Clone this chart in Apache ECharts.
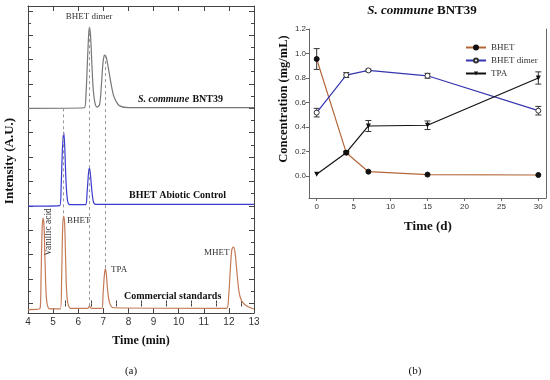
<!DOCTYPE html>
<html><head><meta charset="utf-8">
<script src="https://cdn.jsdelivr.net/npm/echarts@6/dist/echarts.min.js"></script>
<style>html,body{margin:0;padding:0;background:#fff}#c{width:550px;height:380px}</style>
</head><body><div id="c"></div>
<script>
// ---------- Panel (a): HPLC chromatograms (offset intensity, A.U.) ----------
const grayTime = [4, 6.24, 6.31, 6.37, 6.42, 6.45, 6.49, 6.54, 6.6, 6.67, 6.75, 6.85, 6.92, 6.98, 7.03, 7.07, 7.12, 7.2, 7.3, 7.4, 7.5, 7.65, 8.0, 13.0];
const grayIntensity = [16.0, 16.05, 17.2, 20.0, 22.2, 22.66, 22.0, 19.8, 17.5, 16.4, 16.1, 16.3, 17.8, 19.6, 20.3, 20.37, 20.15, 19.3, 18.1, 17.1, 16.6, 16.2, 16.05, 16.05];
const blueTime = [4, 5.27, 5.32, 5.37, 5.42, 5.46, 5.51, 5.57, 5.66, 6.29, 6.35, 6.41, 6.45, 6.49, 6.55, 6.61, 6.7, 13];
const blueIntensity = [7.99, 8.03, 9.6, 12.6, 14.06, 13.0, 10.2, 8.5, 8.1, 8.1, 9.0, 10.7, 11.1, 10.5, 9.1, 8.3, 8.12, 8.13];
const stdTime = [4, 4.47, 4.52, 4.56, 4.6, 4.64, 4.68, 4.74, 4.86, 5.29, 5.34, 5.38, 5.42, 5.46, 5.5, 5.56, 5.7, 6.38, 6.45, 6.52, 6.94, 6.99, 7.04, 7.08, 7.12, 7.17, 7.25, 7.4, 11.9, 11.99, 12.06, 12.12, 12.18, 12.24, 12.31, 12.4, 12.5, 12.65, 12.85, 13.0];
const stdIntensity = [-0.5, -0.45, 2.2, 6.0, 7.0, 6.3, 3.3, 0.3, -0.45, -0.45, 2.2, 6.2, 7.17, 6.5, 3.5, 0.4, -0.4, -0.4, -0.2, -0.4, -0.4, 0.8, 2.3, 2.83, 2.4, 1.1, 0.05, -0.35, -0.4, 0.6, 2.9, 4.45, 4.63, 4.25, 2.8, 1.0, 0.25, -0.12, -0.35, -0.45];
// dashed guide lines: retention time, upper and lower intensity
const guideTime = [5.42, 6.45, 7.08];
const guideTop = [16.0, 22.66, 20.37];
const guideBottom = [7.17, -0.37, 2.83];
const aXTicks = [4, 5, 6, 7, 8, 9, 10, 11, 12, 13];
const aXMinor = [4.5, 5.5, 6.5, 7.5, 8.5, 9.5, 10.5, 11.5, 12.5];
const aYMajor = [0, 2, 4, 6, 8, 10, 12, 14, 16, 18, 20, 22, 24];
const aYMinor = [1, 3, 5, 7, 9, 11, 13, 15, 17, 19, 21, 23];

// ---------- Panel (b): concentration vs time ----------
const days = [0, 4, 7, 15, 30];
const bhet = [0.955, 0.19, 0.035, 0.011, 0.008];
const bhetErr = [0.085, 0.012, 0, 0, 0];
const dimer = [0.517, 0.824, 0.862, 0.818, 0.533];
const dimerErr = [0.035, 0.02, 0.01, 0.02, 0.035];
const tpa = [0.014, 0.19, 0.408, 0.414, 0.80];
const tpaErr = [0, 0.01, 0.045, 0.035, 0.05];
const bXTicks = [0, 5, 10, 15, 20, 25, 30];
const bYTicks = [0, 0.2, 0.4, 0.6, 0.8, 1.0, 1.2];

const serif = '"Liberation Serif", "DejaVu Serif", serif';
const sans = '"Liberation Sans", Arial, sans-serif';
const zip = (a, b) => a.map((v, i) => [v, b[i]]);

function errSeries(vals, errs) {
  const data = [];
  days.forEach((d, i) => { if (errs[i] > 0) data.push([d, vals[i] - errs[i], vals[i] + errs[i]]); });
  return {
    type: 'custom', xAxisIndex: 4, yAxisIndex: 6, silent: true, z: 3,
    encode: { x: 0, y: [1, 2] },
    data,
    renderItem: (params, api) => {
      const lo = api.coord([api.value(0), api.value(1)]);
      const hi = api.coord([api.value(0), api.value(2)]);
      const w = 3, st = { stroke: '#333', lineWidth: 1 };
      return { type: 'group', children: [
        { type: 'line', shape: { x1: lo[0], y1: lo[1], x2: hi[0], y2: hi[1] }, style: st },
        { type: 'line', shape: { x1: lo[0] - w, y1: lo[1], x2: lo[0] + w, y2: lo[1] }, style: st },
        { type: 'line', shape: { x1: hi[0] - w, y1: hi[1], x2: hi[0] + w, y2: hi[1] }, style: st }
      ]};
    }
  };
}

const axA = '#444';
const aX = (pos, labels) => ({
  type: 'value', gridIndex: 0, position: pos, min: 4, max: 13,
  axisLine: { show: true, onZero: false, lineStyle: { color: axA, width: 1 } },
  splitLine: { show: false },
  axisTick: { show: true, inside: true, length: 5, customValues: aXTicks, lineStyle: { color: axA } },
  axisLabel: { show: labels, customValues: aXTicks, fontFamily: sans, fontSize: 10, color: '#333', margin: 4 }
});
const aXm = (pos) => ({
  type: 'value', gridIndex: 0, position: pos, min: 4, max: 13,
  axisLine: { show: false }, splitLine: { show: false }, axisLabel: { show: false },
  axisTick: { show: true, inside: true, length: 3, customValues: aXMinor, lineStyle: { color: axA } }
});
const aY = (pos, vals, len, line) => ({
  type: 'value', gridIndex: 0, position: pos, min: -0.78, max: 24.39,
  axisLine: { show: line, onZero: false, lineStyle: { color: axA, width: 1 } },
  splitLine: { show: false }, axisLabel: { show: false },
  axisTick: { show: true, inside: true, length: len, customValues: vals, lineStyle: { color: axA } }
});
const axB = '#666';

const guideData = guideTime.map((t, i) => [{ coord: [t, guideTop[i]] }, { coord: [t, guideBottom[i]] }]);

const option = {
  animation: false,
  backgroundColor: '#fff',
  grid: [
    { left: 28, right: 296, top: 6, bottom: 67 },
    { left: 309, right: 4, top: 29, bottom: 182 }
  ],
  xAxis: [
    aX('bottom', true), aX('top', false), aXm('bottom'), aXm('top'),
    { type: 'value', gridIndex: 1, position: 'bottom', min: -1.04, max: 31.04,
      axisLine: { show: true, onZero: false, lineStyle: { color: axB } }, splitLine: { show: false },
      axisTick: { show: true, inside: false, length: 3, customValues: bXTicks, lineStyle: { color: axB } },
      axisLabel: { customValues: bXTicks, fontFamily: sans, fontSize: 8, color: '#333', margin: 5 } }
  ],
  yAxis: [
    aY('left', aYMajor, 5, true), aY('left', aYMinor, 3, false),
    aY('right', aYMajor, 5, true), aY('right', aYMinor, 3, false),
    { type: 'value', gridIndex: 1, position: 'right', min: -0.18, max: 1.2,
      axisLine: { show: true, onZero: false, lineStyle: { color: axB } }, splitLine: { show: false },
      axisTick: { show: false }, axisLabel: { show: false } },
    { type: 'value', gridIndex: 1, position: 'right', min: -0.18, max: 1.2, show: false },
    { type: 'value', gridIndex: 1, position: 'left', min: -0.18, max: 1.2,
      axisLine: { show: true, onZero: false, lineStyle: { color: axB } }, splitLine: { show: false },
      axisTick: { show: true, inside: false, length: 3, customValues: bYTicks, lineStyle: { color: axB } },
      axisLabel: { customValues: bYTicks, formatter: v => v.toFixed(1), fontFamily: sans, fontSize: 8, color: '#333', margin: 3 } }
  ],
  legend: {
    data: ['BHET', 'BHET dimer', 'TPA'], orient: 'vertical', left: 460, top: 38,
    itemWidth: 20, itemHeight: 5, itemGap: 4,
    textStyle: { fontFamily: serif, fontSize: 9, color: '#333' }
  },
  series: [
    { type: 'line', xAxisIndex: 0, yAxisIndex: 0, data: zip(grayTime, grayIntensity), showSymbol: false, smooth: 0.3,
      lineStyle: { color: '#777', width: 1.2 }, z: 2,
      markLine: { silent: true, symbol: 'none', label: { show: false },
        lineStyle: { color: '#999', type: [3, 3], width: 1 }, data: guideData } },
    { type: 'line', xAxisIndex: 0, yAxisIndex: 0, data: zip(blueTime, blueIntensity), showSymbol: false, smooth: 0.3,
      lineStyle: { color: '#3b3bd0', width: 1.2 }, z: 2 },
    { type: 'line', xAxisIndex: 0, yAxisIndex: 0, data: zip(stdTime, stdIntensity), showSymbol: false, smooth: 0.3,
      lineStyle: { color: '#c47a55', width: 1.2 }, z: 2 },
    errSeries(bhet, bhetErr), errSeries(dimer, dimerErr), errSeries(tpa, tpaErr),
    { name: 'BHET', type: 'line', xAxisIndex: 4, yAxisIndex: 6, data: zip(days, bhet),
      symbol: 'circle', symbolSize: 5, lineStyle: { color: '#b5673a', width: 1.2 },
      itemStyle: { color: '#111', borderColor: '#111', borderWidth: 1 }, z: 4 },
    { name: 'BHET dimer', type: 'line', xAxisIndex: 4, yAxisIndex: 6, data: zip(days, dimer),
      symbol: 'circle', symbolSize: 5, lineStyle: { color: '#3535b0', width: 1.2 },
      itemStyle: { color: '#fff', borderColor: '#333', borderWidth: 1 }, z: 4 },
    { name: 'TPA', type: 'line', xAxisIndex: 4, yAxisIndex: 6, data: zip(days, tpa),
      symbol: 'triangle', symbolRotate: 180, symbolSize: 5, lineStyle: { color: '#111', width: 1.2 },
      itemStyle: { color: '#111' }, z: 4 }
  ],
  graphic: [
    { type: 'text', x: 89, y: 17, style: { text: 'BHET dimer', font: '9px ' + serif, fill: '#333', align: 'center', verticalAlign: 'middle' } },
    { type: 'text', x: 138, y: 99, style: { text: '{i|S. commune} {b|BNT39}', verticalAlign: 'middle',
        rich: { i: { font: 'italic bold 10px ' + serif, fill: '#111' }, b: { font: 'bold 10px ' + serif, fill: '#111' } } } },
    { type: 'text', x: 129, y: 195, style: { text: 'BHET Abiotic Control', font: 'bold 10px ' + serif, fill: '#111', verticalAlign: 'middle' } },
    { type: 'text', x: 124, y: 296, style: { text: 'Commercial standards', font: 'bold 10px ' + serif, fill: '#111', verticalAlign: 'middle' } },
    { type: 'text', x: 48.5, y: 232, rotation: Math.PI / 2, style: { text: 'Vanillic acid', font: '9.5px ' + serif, fill: '#333', align: 'center', verticalAlign: 'middle' } },
    { type: 'text', x: 67, y: 221, style: { text: 'BHET', font: '9px ' + serif, fill: '#333', verticalAlign: 'middle' } },
    { type: 'text', x: 111, y: 270, style: { text: 'TPA', font: '9px ' + serif, fill: '#333', verticalAlign: 'middle' } },
    { type: 'text', x: 204, y: 253, style: { text: 'MHET', font: '9px ' + serif, fill: '#333', verticalAlign: 'middle' } },
    { type: 'text', x: 10, y: 161, rotation: Math.PI / 2, style: { text: 'Intensity (A.U.)', font: 'bold 13px ' + serif, fill: '#111', align: 'center', verticalAlign: 'middle' } },
    { type: 'text', x: 141, y: 341, style: { text: 'Time (min)', font: 'bold 12px ' + serif, fill: '#111', align: 'center', verticalAlign: 'middle' } },
    { type: 'text', x: 131, y: 371, style: { text: '(a)', font: '11px ' + serif, fill: '#111', align: 'center', verticalAlign: 'middle' } },
    { type: 'text', x: 415, y: 371, style: { text: '(b)', font: '11px ' + serif, fill: '#111', align: 'center', verticalAlign: 'middle' } },
    { type: 'text', x: 422, y: 11, style: { text: '{i|S. commune} {b|BNT39}', align: 'center', verticalAlign: 'middle',
        rich: { i: { font: 'italic bold 13px ' + serif, fill: '#111' }, b: { font: 'bold 13px ' + serif, fill: '#111' } } } },
    { type: 'text', x: 284, y: 99, rotation: Math.PI / 2, style: { text: 'Concentration (mg/mL)', font: 'bold 12.5px ' + serif, fill: '#111', align: 'center', verticalAlign: 'middle' } },
    { type: 'text', x: 428, y: 227, style: { text: 'Time (d)', font: 'bold 13px ' + serif, fill: '#111', align: 'center', verticalAlign: 'middle' } }
  ]
};
echarts.init(document.getElementById('c')).setOption(option);
</script></body></html>
